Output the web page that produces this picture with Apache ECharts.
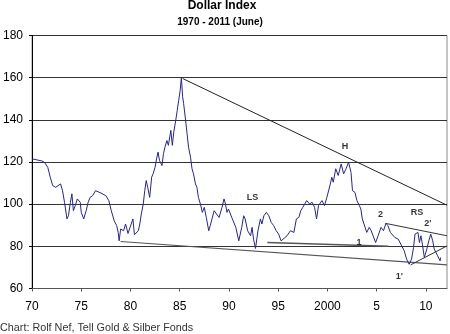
<!DOCTYPE html>
<html>
<head>
<meta charset="utf-8">
<script src="https://cdn.jsdelivr.net/npm/echarts@6/dist/echarts.min.js"></script>
<style>
html,body{margin:0;padding:0;background:#fff;}
#c{width:450px;height:334px;}
</style>
</head>
<body>
<div id="c"></div>
<script>
// ---- data ----
const titleText = 'Dollar Index';
const subtitleText = '1970 - 2011 (June)';
const footerText = 'Chart: Rolf Nef, Tell Gold & Silber Fonds';

const years = [
 1970.0,1970.5,1971.0,1971.25,1971.6,1971.85,1972.1,1972.4,1972.9,1973.1,1973.3,1973.55,1973.7,1973.9,
 1974.05,1974.2,1974.45,1974.6,1974.9,1975.0,1975.25,1975.5,1975.7,1975.9,1976.15,1976.45,1977.0,1977.5,
 1977.8,1978.05,1978.35,1978.6,1978.75,1978.85,1979.0,1979.3,1979.5,1979.75,1979.95,1980.25,1980.4,1980.6,
 1980.8,1980.95,1981.1,1981.3,1981.45,1981.6,1981.75,1981.95,1982.15,1982.3,1982.5,1982.65,1982.8,1982.95,
 1983.2,1983.35,1983.5,1983.7,1983.85,1984.1,1984.25,1984.4,1984.6,1984.75,1984.9,1985.05,1985.17,1985.3,
 1985.4,1985.6,1985.75,1985.9,1986.1,1986.25,1986.4,1986.6,1986.75,1986.9,1987.1,1987.3,1987.5,1987.7,
 1987.95,1988.1,1988.5,1988.7,1989.0,1989.3,1989.5,1989.65,1989.8,1989.95,1990.35,1990.7,1991.0,1991.3,
 1991.5,1991.65,1991.9,1992.2,1992.35,1992.5,1992.7,1992.95,1993.2,1993.35,1993.55,1993.8,1994.05,1994.3,
 1994.55,1994.8,1995.05,1995.3,1995.5,1995.9,1996.25,1996.6,1996.85,1997.1,1997.3,1997.5,1997.7,1997.9,
 1998.2,1998.45,1998.7,1998.9,1999.1,1999.45,1999.7,1999.95,2000.3,2000.45,2000.6,2000.85,2001.1,2001.4,
 2001.65,2001.9,2002.15,2002.4,2002.55,2002.8,2003.0,2003.25,2003.4,2003.55,2003.75,2004.0,2004.25,2004.45,
 2004.65,2004.9,2005.15,2005.45,2005.7,2005.95,2006.15,2006.4,2006.6,2006.85,2007.2,2007.55,2007.8,2008.05,
 2008.3,2008.55,2008.75,2008.9,2009.2,2009.35,2009.5,2009.65,2009.85,2010.1,2010.3,2010.5,2010.7,2010.85,
 2011.0,2011.2,2011.45,2011.5
];
const values = [
 121.5,121.0,120.5,119.9,117.5,112.8,108.8,108.0,109.6,106.4,100.9,93.0,94.5,100.9,
 104.9,96.9,100.1,102.5,100.9,96.1,93.0,96.9,100.9,103.2,104.0,106.4,105.3,104.0,
 101.7,96.9,92.1,89.8,86.6,82.6,88.2,87.4,90.6,86.1,85.8,93.0,85.5,85.0,
 87.4,90.6,95.3,100.1,106.4,111.2,108.0,103.2,112.8,114.4,117.5,121.5,124.7,120.7,
 118.3,123.9,127.0,130.2,127.9,135.0,127.9,134.2,139.8,144.5,149.3,154.0,160.1,150.9,
 147.7,139.8,133.4,127.0,122.3,116.8,114.4,109.6,108.0,103.2,100.1,96.1,98.5,93.7,
 87.4,89.8,96.9,97.7,93.7,98.5,102.5,100.1,96.1,97.7,93.0,89.0,82.6,89.0,
 94.5,93.0,87.4,85.0,89.0,83.4,79.0,87.4,93.0,90.6,94.5,96.1,94.5,91.3,
 89.8,87.4,85.8,82.6,81.8,85.0,87.4,86.6,93.0,93.7,96.9,98.5,99.3,101.7,
 100.1,100.9,98.5,93.0,99.3,101.7,99.3,103.2,109.6,112.8,110.4,116.8,113.6,119.1,
 114.4,116.8,119.9,115.1,106.4,105.6,101.7,99.3,97.7,93.0,93.7,86.6,89.0,87.4,
 87.4,81.8,85.0,89.0,87.4,90.9,89.8,86.6,87.4,84.2,83.4,80.2,77.9,73.9,
 71.5,73.9,79.4,85.8,86.6,81.8,85.0,81.0,74.7,78.7,82.6,85.8,82.6,78.7,
 79.4,75.5,73.1,74.7
];

// trend lines: [startYear, endYear], [startValue, endValue]
const topLineX = [1985.3, 2012.15];      const topLineY = [159.6, 99.5];
const baseLineX = [1979.0, 2012.15];     const baseLineY = [82.3, 71.2];
const line1X = [1993.9, 2006.2];         const line1Y = [81.8, 80.0];
const line2X = [2005.9, 2012.15];        const line2Y = [90.9, 85.0];
const line1pX = [2008.45, 2012.15];      const line1pY = [71.2, 80.2];

// annotation labels
const noteNames = ['H', 'LS', '2', 'RS', "2'", '1', "1'"];
const noteX = [2001.8, 1992.4, 2005.4, 2009.1, 2010.2, 2003.2, 2007.3];
const noteY = [127.4, 103.0, 95.0, 96.0, 90.6, 81.8, 65.6];

// x tick labels
const xTickYears = [1970, 1975, 1980, 1985, 1990, 1995, 2000, 2005, 2010];
const xTickLabels = ['70', '75', '80', '85', '90', '95', '2000', '5', '10'];

// ---- chart ----
const chart = echarts.init(document.getElementById('c'), null, {renderer: 'canvas'});
const pairs = (xs, ys) => xs.map((x, i) => [x, ys[i]]);
const trend = (xs, ys, color, width) => ({
  type: 'line', data: pairs(xs, ys), showSymbol: false, silent: true, animation: false,
  lineStyle: {color: color, width: width}, z: 3
});

const font = "'Liberation Sans', Arial, sans-serif";

chart.setOption({
  animation: false,
  grid: {left: 31, right: 3, top: 35.5, bottom: 45.5, show: true, borderColor: '#8c8c8c', borderWidth: 1, backgroundColor: 'transparent'},
  xAxis: {
    type: 'value', min: 1970, max: 2012.15, interval: 5,
    axisLine: {show: true, lineStyle: {color: '#555', width: 1}},
    axisTick: {show: true, length: 3, lineStyle: {color: '#555'}},
    axisLabel: {
      show: true, margin: 12, color: '#000', fontSize: 12, fontFamily: font,
      showMaxLabel: false,
      formatter: v => { const i = xTickYears.indexOf(Math.round(v)); return (i >= 0 && Math.abs(v - Math.round(v)) < 1e-6) ? xTickLabels[i] : ''; }
    },
    splitLine: {show: false}
  },
  yAxis: {
    type: 'value', min: 60, max: 180, interval: 20,
    axisLine: {show: true, lineStyle: {color: '#000', width: 1}},
    axisTick: {show: true, length: 3, lineStyle: {color: '#000'}},
    axisLabel: {margin: 9, color: '#000', fontSize: 12, fontFamily: font},
    splitLine: {show: true, lineStyle: {color: '#333', width: 1}}
  },
  graphic: [
    {type: 'text', x: 222, y: 5.5, style: {text: titleText, font: "bold 12px 'Liberation Sans', Arial", fill: '#000', textAlign: 'center', textVerticalAlign: 'middle'}},
    {type: 'text', x: 220, y: 22, style: {text: subtitleText, font: "bold 10px 'Liberation Sans', Arial", fill: '#000', textAlign: 'center', textVerticalAlign: 'middle'}},
    {type: 'text', x: 0, y: 328.5, style: {text: footerText, font: "10.8px 'Liberation Sans', Arial", fill: '#333', textAlign: 'left', textVerticalAlign: 'middle'}}
  ],
  series: [
    trend(topLineX, topLineY, '#222', 1),
    trend(baseLineX, baseLineY, '#555', 1.2),
    trend(line1X, line1Y, '#555', 1.5),
    trend(line2X, line2Y, '#333', 1),
    trend(line1pX, line1pY, '#333', 1),
    {
      type: 'line', data: pairs(years, values), showSymbol: false, silent: true,
      lineStyle: {color: '#23249c', width: 1}, z: 4
    },
    {
      type: 'scatter', symbolSize: 0, silent: true, z: 5,
      data: noteNames.map((n, i) => ({name: n, value: [noteX[i], noteY[i]]})),
      label: {show: true, position: 'inside', formatter: '{b}', color: '#000', fontSize: 9, fontWeight: 'bold', fontFamily: font}
    }
  ]
});
</script>
</body>
</html>
